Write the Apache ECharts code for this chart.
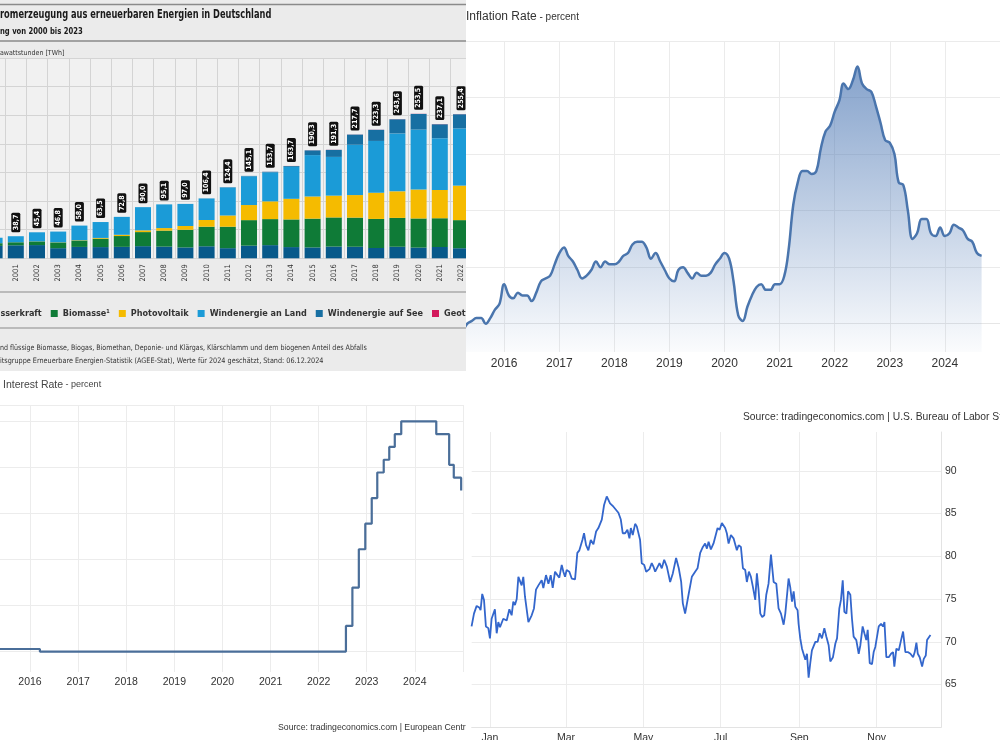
<!DOCTYPE html>
<html><head><meta charset="utf-8">
<script src="https://cdn.jsdelivr.net/npm/echarts@6/dist/echarts.min.js"></script>
<style>
html,body{margin:0;padding:0;background:#fff;width:1000px;height:740px;overflow:hidden;}
.p{position:absolute;overflow:hidden;}
</style></head><body>
<div id="a" class="p" style="left:0;top:0;width:466px;height:371px"></div>
<div id="b" class="p" style="left:466px;top:0;width:534px;height:380px"></div>
<div id="c" class="p" style="left:0;top:372px;width:466px;height:368px"></div>
<div id="d" class="p" style="left:466px;top:380px;width:534px;height:360px"></div>
<script>
// ---------- DATA: renewable electricity Germany (TWh) ----------
const years = ['2000','2001','2002','2003','2004','2005','2006','2007','2008','2009','2010','2011','2012','2013','2014','2015','2016','2017','2018','2019','2020','2021','2022'];
const wasserkraft = [21.7,22.7,23.1,17.7,19.9,19.6,20.0,21.2,20.4,19.0,21.0,17.7,22.1,23.0,19.6,19.0,20.5,20.2,18.0,20.2,18.7,19.7,17.6];
const biomasse = [4.7,5.3,6.4,10.0,11.2,14.7,18.9,24.6,28.0,30.9,34.2,37.5,44.6,45.5,48.3,50.3,50.9,50.9,50.8,50.4,50.9,50.3,49.1];
const photovoltaik = [0.06,0.08,0.16,0.3,0.56,1.28,2.2,3.08,4.42,6.58,11.73,19.6,26.38,31.0,36.06,38.73,38.1,39.4,45.78,46.39,50.6,49.34,60.3];
const windLand = [9.5,10.5,15.8,18.7,25.5,27.8,31.3,40.5,41.4,38.6,37.6,48.9,50.2,50.8,55.9,72.3,67.7,88.0,90.5,101.2,104.8,90.5,100.0];
const windSee = [0,0,0,0,0,0,0,0,0,0.04,0.17,0.57,0.72,0.92,1.47,8.28,12.27,17.68,19.47,24.74,27.31,24.37,24.7];
const geothermie = [0,0,0,0,0,0,0,0,0,0.02,0.03,0.02,0.03,0.08,0.1,0.13,0.18,0.16,0.18,0.2,0.23,0.25,0.2];
const totalsText = ['36,0','38,7','45,4','46,8','58,0','63,5','72,8','90,0','95,1','97,0','106,4','124,4','145,1','153,7','163,7','190,3','191,3','217,7','223,3','243,6','253,5','237,1','255,4'];
const energyNames = ['Wasserkraft','Biomasse¹','Photovoltaik','Windenergie an Land','Windenergie auf See','Geothermie'];

// ---------- DATA: US inflation rate (percent), monthly from 2015-03 ----------
const cpiStartYear = 2015, cpiStartMonth = 2;
const cpiValues = [-0.1,-0.2,0.0,0.1,0.2,0.2,0.0,0.2,0.5,0.7,
 1.4,1.0,0.9,1.1,1.0,1.0,0.8,1.1,1.5,1.6,1.7,2.1,
 2.5,2.7,2.4,2.2,1.9,1.6,1.7,1.9,2.2,2.0,2.2,2.1,
 2.1,2.2,2.4,2.5,2.8,2.9,2.9,2.7,2.3,2.5,2.2,1.9,
 1.6,1.5,1.9,2.0,1.8,1.6,1.8,1.7,1.7,1.8,2.1,2.3,
 2.5,2.3,1.5,0.3,0.1,0.6,1.0,1.3,1.4,1.2,1.2,1.4,
 1.4,1.7,2.6,4.2,5.0,5.4,5.4,5.3,5.4,6.2,6.8,7.0,
 7.5,7.9,8.5,8.3,8.6,9.1,8.5,8.3,8.2,7.7,7.1,6.5,
 6.4,6.0,5.0,4.9,4.0,3.0,3.2,3.7,3.7,3.2,3.1,3.4,
 3.1,3.2,3.5,3.4,3.3,3.0,2.9,2.5,2.4];
const cpiYearTicks = [2016,2017,2018,2019,2020,2021,2022,2023,2024];
const cpiGridValues = [0,2,4,6,8,10];

// ---------- DATA: interest rate (percent), change dates ----------
const irDates = ['2014-09-10','2016-03-16','2022-07-27','2022-09-14','2022-11-02','2022-12-21','2023-02-08','2023-03-22','2023-05-10','2023-06-21','2023-08-02','2023-09-20','2024-06-12','2024-09-18','2024-10-23','2024-12-18'];
const irValues = [0.05,0,0.5,1.25,2,2.5,3,3.5,3.75,4,4.25,4.5,4.25,3.65,3.4,3.15];
const irYearLabels = [2016,2017,2018,2019,2020,2021,2022,2023,2024];
const irYearLines = [2016,2017,2018,2019,2020,2021,2022,2023,2024,2025];
const irGridValues = [0,0.9,1.8,2.7,3.6,4.5,4.82];

// ---------- DATA: daily price series (day offset from 2024-01-01) ----------
const pxDay = [-14.5,-12.6,-10.5,-8.4,-7.4,-6.1,-4.7,-3.2,-1.3,0,
 1.3,2.6,3.9,5.3,6.6,7.9,10.5,13.2,15.3,17.1,
 18.4,19.7,21.1,22.4,23.7,25.0,26.3,27.6,30.3,32.9,
 34.7,36.3,38.2,39.5,40.8,42.1,44.2,46.1,47.9,49.5,
 51.3,53.2,54.7,56.6,57.9,59.2,60.5,62.6,64.5,67.1,
 68.9,70.5,71.6,72.9,74.2,75.8,77.6,79.5,81.6,83.7,
 85.5,88.2,90.0,92.1,94.7,97.4,98.7,101.3,103.2,104.7,
 106.6,108.4,110.0,111.1,112.6,114.5,115.8,118.4,119.7,121.6,
 123.2,125.8,127.6,128.9,130.3,131.6,133.7,135.5,137.4,139.5,
 142.1,144.2,146.8,148.9,150.8,152.1,153.9,156.6,157.9,159.2,
 161.8,163.7,165.8,167.9,169.7,171.1,172.4,174.2,176.3,177.6,
 179.5,181.1,182.9,184.2,185.5,186.8,188.2,190.0,192.1,194.7,
 196.1,197.9,199.5,201.3,202.6,204.2,205.8,207.4,209.2,210.5,
 211.8,213.2,214.7,216.3,217.9,219.7,221.6,223.7,225.8,227.6,
 229.5,231.6,232.9,235.5,236.8,238.2,239.5,240.8,242.6,243.4,
 244.7,246.1,247.4,248.7,250.0,251.3,252.6,253.9,255.3,256.6,
 258.4,260.0,261.8,263.7,265.3,267.1,268.4,270.5,272.4,273.7,
 275.5,276.8,278.2,279.5,281.1,282.4,284.2,285.5,286.8,288.9,
 290.8,292.1,293.9,295.3,296.8,297.9,299.5,301.3,302.6,303.9,
 305.3,306.6,308.4,310.0,311.1,312.6,314.5,316.3,317.9,318.9,
 320.5,322.4,324.2,325.8,327.6,329.5,331.6,333.7,335.0,336.3,
 337.4,338.9,340.8,342.1,343.7,344.7,346.1,347.4];
const pxValue = [71.8,73.3,74.2,74.0,73.7,75.6,74.9,71.8,71.6,70.4,
 72.7,72.5,73.8,71.0,72.3,71.7,72.7,72.5,73.8,73.1,
 74.7,74.3,75.0,77.6,77.8,76.6,77.6,75.3,72.3,73.1,
 73.9,76.1,76.6,76.8,77.2,76.3,77.8,76.8,77.8,76.3,
 78.2,77.8,77.5,79.0,78.2,77.6,78.4,78.2,77.4,77.3,
 80.4,80.7,80.7,81.9,82.7,81.3,80.7,81.9,81.4,82.9,
 83.3,84.3,86.0,87.0,86.2,85.8,86.0,85.1,84.3,82.7,
 82.7,83.1,82.1,83.3,82.5,83.8,83.5,81.9,79.2,79.0,
 78.2,78.5,79.2,78.8,78.2,78.4,79.2,78.6,79.6,78.8,
 77.0,78.0,79.8,78.6,77.0,74.5,73.3,75.5,75.7,77.6,
 78.2,78.6,80.4,81.1,81.5,80.9,81.7,80.8,81.5,81.7,
 83.3,83.1,83.9,84.1,83.3,82.7,81.5,82.5,82.1,80.7,
 81.3,81.1,78.6,78.4,77.0,78.2,77.6,76.4,74.9,78.0,
 76.1,73.3,72.9,73.1,75.5,76.8,80.2,77.0,76.8,73.9,
 73.3,72.0,73.3,77.4,76.4,74.7,75.9,74.1,73.7,72.1,
 70.4,69.2,69.2,67.9,68.6,65.8,67.5,69.0,68.8,70.0,
 70.0,71.0,70.4,71.6,70.6,69.6,67.7,68.2,69.8,70.4,
 73.9,74.9,77.2,73.5,73.3,75.9,75.5,72.7,70.6,70.2,
 68.6,69.6,71.8,71.0,70.2,71.4,67.5,67.4,68.8,69.4,
 69.6,71.8,72.1,71.8,72.3,68.2,68.2,68.6,68.8,67.1,
 69.2,69.0,70.2,71.2,68.8,68.8,68.6,68.2,68.8,69.9,
 68.6,68.2,67.1,68.0,68.4,70.2,70.4,70.8];
const pxMonthTicks = [0,2,4,6,8,10];
const pxMonthNames = ['Jan','Feb','Mar','Apr','May','Jun','Jul','Aug','Sep','Oct','Nov','Dec'];
const pxLabelValues = [65,70,75,80,85,90];

// ---------- styles ----------
const FN = "'DejaVu Sans Condensed','DejaVu Sans',sans-serif";
const TE = "'Liberation Sans',Arial,sans-serif";
const DAY = 86400000;

// ===== Chart A: stacked bars =====
const energyData = [wasserkraft, biomasse, photovoltaik, windLand, windSee, geothermie];
const energyColors = ['#07598a','#0f7b37','#f5bb00','#1b9bd7','#176fa2','#d3195c'];
const chartA = echarts.init(document.getElementById('a'));
chartA.setOption({
  backgroundColor:'#ebebeb', animation:false,
  graphic:[
    {type:'line', shape:{x1:0,y1:4.5,x2:466,y2:4.5}, style:{stroke:'#8a8a8a',lineWidth:1.5}},
    {type:'line', shape:{x1:0,y1:41,x2:466,y2:41}, style:{stroke:'#8a8a8a',lineWidth:1.5}},
    {type:'line', shape:{x1:0,y1:292,x2:466,y2:292}, style:{stroke:'#8a8a8a',lineWidth:1.2}},
    {type:'line', shape:{x1:0,y1:328,x2:466,y2:328}, style:{stroke:'#8a8a8a',lineWidth:1.2}},
    {type:'text', x:0, y:15, scaleX:0.8, style:{text:'romerzeugung aus erneuerbaren Energien in Deutschland', font:'bold 11.5px '+FN, fill:'#1a1a1a', verticalAlign:'middle'}},
    {type:'text', x:0, y:31.5, scaleX:0.8, style:{text:'ng von 2000 bis 2023', font:'bold 9.5px '+FN, fill:'#1a1a1a', verticalAlign:'middle'}},
    {type:'text', x:0, y:53, style:{text:'awattstunden [TWh]', font:'7px '+FN, fill:'#333', verticalAlign:'middle'}},
    {type:'text', x:0, y:348, scaleX:0.94, style:{text:'nd flüssige Biomasse, Biogas, Biomethan, Deponie- und Klärgas, Klärschlamm und dem biogenen Anteil des Abfalls', font:'7.5px '+FN, fill:'#333', verticalAlign:'middle'}},
    {type:'text', x:0, y:361, scaleX:0.96, style:{text:'itsgruppe Erneuerbare Energien-Statistik (AGEE-Stat), Werte für 2024 geschätzt, Stand: 06.12.2024', font:'7.5px '+FN, fill:'#333', verticalAlign:'middle'}}
  ],
  legend:{data:energyNames, left:-30.7, top:304, width:900, icon:'rect', itemWidth:7, itemHeight:7, itemGap:9, selectedMode:false,
    textStyle:{fontFamily:FN, fontWeight:'bold', fontSize:9, color:'#333'}},
  grid:{left:-16, right:-5.6, top:58, height:200.3, show:true, backgroundColor:'#f1f1f1', borderWidth:0, containLabel:false, outerBoundsMode:'none'},
  xAxis:{type:'category', data:years, boundaryGap:true,
    axisLine:{show:false}, axisTick:{show:false},
    axisLabel:{interval:0, rotate:90, fontSize:7.5, color:'#333', fontFamily:FN, margin:6},
    splitLine:{show:true, interval:0, lineStyle:{color:'#d4d4d4', width:1}}},
  yAxis:{type:'value', min:0, max:350, interval:50, axisLabel:{show:false}, axisLine:{show:false}, axisTick:{show:false},
    splitLine:{show:true, lineStyle:{color:'#d4d4d4', width:1}}},
  series: energyNames.map((n,i)=>({
    name:n, type:'bar', stack:'total', barWidth:16, data:energyData[i],
    itemStyle:{color:energyColors[i]},
    label: i===5 ? {show:true, position:'top', rotate:90, align:'left', verticalAlign:'middle', distance:4,
      formatter:p=>totalsText[p.dataIndex], color:'#fff', fontSize:7, fontWeight:'bold', fontFamily:FN,
      backgroundColor:'#111', padding:[1,2,0,2], lineHeight:8, borderRadius:1.5} : {show:false}
  }))
});

// ===== Chart B: inflation area =====
const cpiData = cpiValues.map((v,i)=>[new Date(cpiStartYear, cpiStartMonth+i, 1).getTime(), v]);
const cpiTicks = cpiYearTicks.map(y=>new Date(y,0,1).getTime());
const chartB = echarts.init(document.getElementById('b'));
chartB.setOption({
  backgroundColor:'#fff', animation:false,
  title:{text:'{a|Inflation Rate}{b| - percent}', left:0, top:10, padding:0,
    textStyle:{fontWeight:'normal', rich:{a:{fontSize:12, color:'#333', fontFamily:TE, fontWeight:'normal', lineHeight:14}, b:{fontSize:10, color:'#333', fontFamily:TE, fontWeight:'normal', lineHeight:14}}}},
  grid:{left:0, right:0, top:41, bottom:28, containLabel:false, outerBoundsMode:'none'},
  xAxis:{type:'value', min:new Date(2015,3,23).getTime(), max:new Date(2025,0,1).getTime(),
    axisLine:{show:true, lineStyle:{color:'#e6e6e6'}},
    axisTick:{show:false, customValues:cpiTicks},
    axisLabel:{customValues:cpiTicks, formatter:v=>String(new Date(v).getFullYear()), color:'#333', fontSize:12, fontFamily:TE, margin:6},
    splitLine:{show:true, lineStyle:{color:'#ebebeb'}}},
  yAxis:{type:'value', min:-1, max:10, position:'right', axisLabel:{show:false}, axisLine:{show:false},
    axisTick:{show:false, customValues:cpiGridValues},
    splitLine:{show:true, lineStyle:{color:'#ebebeb'}}},
  series:[{type:'line', data:cpiData, smooth:0.4, symbol:'none', lineStyle:{color:'#4a75ad', width:2.5},
    areaStyle:{origin:'start', color:new echarts.graphic.LinearGradient(0,0,0,1,[
      {offset:0, color:'rgba(72,116,178,0.95)'},{offset:1, color:'rgba(72,116,178,0.03)'}])}}]
});

// ===== Chart C: interest rate step =====
const irData = irDates.map((d,i)=>{const p=d.split('-'); return [new Date(+p[0], +p[1]-1, +p[2]).getTime(), irValues[i]];});
const irLabelTicks = irYearLabels.map(y=>new Date(y,0,1).getTime());
const irLineTicks = irYearLines.map(y=>new Date(y,0,1).getTime());
const chartC = echarts.init(document.getElementById('c'));
chartC.setOption({
  backgroundColor:'#fff', animation:false,
  title:{text:'{a|Interest Rate}{b| - percent}', left:3, top:6.5, padding:0,
    textStyle:{fontWeight:'normal', rich:{a:{fontSize:10.5, color:'#444', fontFamily:TE, fontWeight:'normal', lineHeight:13}, b:{fontSize:9, color:'#444', fontFamily:TE, fontWeight:'normal', lineHeight:13}}}},
  graphic:[{type:'text', x:278, y:356, style:{text:'Source: tradingeconomics.com | European Central Bank', font:'8.7px '+TE, fill:'#333', verticalAlign:'middle'}}],
  grid:{left:0, right:3, top:33, bottom:68, containLabel:false, outerBoundsMode:'none'},
  xAxis:{type:'value', min:new Date(2015,4,18).getTime(), max:new Date(2025,0,1).getTime(),
    axisLine:{show:false},
    axisTick:{show:false, customValues:irLineTicks},
    axisLabel:{customValues:irLabelTicks, formatter:v=>String(new Date(v).getFullYear()), color:'#333', fontSize:10.5, fontFamily:TE, margin:5},
    splitLine:{show:true, lineStyle:{color:'#ececec'}}},
  yAxis:{type:'value', min:-0.4, max:4.82, position:'right', axisLabel:{show:false}, axisLine:{show:false},
    axisTick:{show:false, customValues:irGridValues},
    splitLine:{show:true, lineStyle:{color:'#ececec'}}},
  series:[{type:'line', step:'end', data:irData, symbol:'none', lineStyle:{color:'#4a6e99', width:2.2}}]
});

// ===== Chart D: daily price line =====
const base = new Date(2024,0,1).getTime();
const pxData = pxDay.map((d,i)=>[base + d*DAY, pxValue[i]]);
const pxTicks = pxMonthTicks.map(m=>new Date(2024,m,1).getTime());
const chartD = echarts.init(document.getElementById('d'));
chartD.setOption({
  backgroundColor:'#fff', animation:false,
  graphic:[{type:'text', x:277, y:37, style:{text:'Source: tradingeconomics.com | U.S. Bureau of Labor Statistics', font:'10.3px '+TE, fill:'#333', verticalAlign:'middle'}}],
  grid:{left:5.7, right:59, top:52, bottom:12.7, containLabel:false, outerBoundsMode:'none'},
  xAxis:{type:'value', min:base - 14.4*DAY, max:base + 355.7*DAY,
    axisLine:{show:true, lineStyle:{color:'#e3e3e3'}},
    axisTick:{show:false, customValues:pxTicks},
    axisLabel:{customValues:pxTicks, formatter:v=>pxMonthNames[new Date(v).getMonth()], color:'#333', fontSize:10.5, fontFamily:TE, margin:5},
    splitLine:{show:true, lineStyle:{color:'#ececec'}}},
  yAxis:{type:'value', min:60, max:94.54, position:'right',
    axisLine:{show:true, lineStyle:{color:'#e3e3e3'}},
    axisTick:{show:false, customValues:pxLabelValues},
    axisLabel:{customValues:pxLabelValues, color:'#333', fontSize:10.5, fontFamily:TE, margin:4},
    splitLine:{show:true, lineStyle:{color:'#ececec'}}},
  series:[{type:'line', data:pxData, symbol:'none', lineStyle:{color:'#3366cc', width:1.8}}]
});
</script>
</body></html>
